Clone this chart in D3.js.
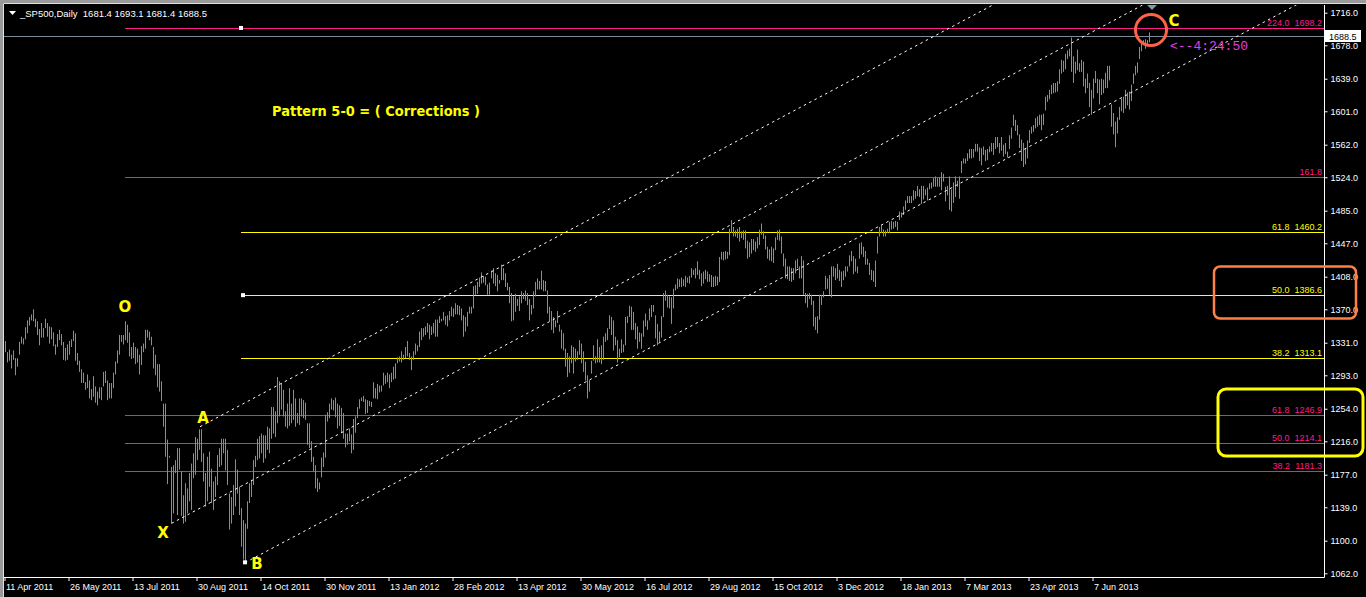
<!DOCTYPE html>
<html><head><meta charset="utf-8"><title>_SP500 Daily</title>
<script src="https://cdn.jsdelivr.net/npm/d3@7/dist/d3.min.js"></script>
<style>html,body{margin:0;padding:0;background:#000;overflow:hidden}svg{display:block}text{white-space:pre}</style>
</head><body>
<svg id="chart" width="1366" height="597"></svg>
<script>
// ---------- DATA (daily bars, high / low) ----------
const highs = [
1333,1320,1323,1317,1322,1313,1313,1332,1338,1336,
1349,1357,1361,1364,1370,1359,1356,1347,1354,1348,
1359,1354,1350,1349,1343,1329,1341,1346,1341,1332,
1325,1329,1333,1335,1345,1342,1319,1310,1300,1296,
1285,1294,1287,1277,1292,1280,1274,1279,1279,1297,
1298,1287,1284,1284,1296,1309,1322,1340,1340,1340,
1356,1352,1343,1326,1331,1326,1324,1317,1327,1330,
1346,1346,1344,1338,1326,1317,1306,1306,1286,
1260,1260,1218,1199,1186,1188,1194,1208,1208,1181,1153,
1167,1161,1179,1190,1202,1221,1219,1230,1230,1202,
1179,1198,1204,1184,1169,1175,1200,1208,1219,1219,
1219,1206,1155,1151,1165,1195,1183,1163,1138,1124,
1120,1146,1167,1171,1194,1199,1219,1222,1225,1223,
1223,1233,1231,1256,1256,1251,1291,1286,1284,1276,
1251,1260,1278,1260,1276,1266,1249,1266,1266,1264,
1261,1237,1237,1216,1198,1188,1173,1168,
1197,1203,1247,1250,1260,1266,1264,1267,1260,1258,
1255,1249,1225,1225,1231,1224,1242,1245,1256,1265,
1267,1269,1265,1264,1263,1262,1285,1278,1283,1281,
1281,1296,1293,1296,1294,
1296,
1303,1307,1314,1315,1321,1317,1326,1333,1319,1315,
1321,1330,1328,1344,1348,1348,1350,1354,1352,1350,
1354,1358,1358,1362,1359,1367,1362,1363,1368,1373,
1371,1377,1375,1374,1371,1363,1361,1367,1373,1373,
1397,1398,1402,1407,1413,1409,1408,1399,1401,1415,
1418,1412,1410,1404,1422,1418,1412,1401,1396,1389,
1385,1388,1382,1385,1391,1389,1392,1389,1382,1375,
1391,1402,1406,1403,1415,1404,1403,1392,1373,1368,
1361,1357,1368,1352,1346,1342,1324,1319,1315,1328,
1326,1324,1321,1334,1330,1321,1309,1293,1287,1310,
1328,1315,1335,1326,1328,1338,1342,1348,1363,1361,
1357,1338,1334,1324,1335,1329,1361,1362,1374,
1373,1367,1354,1350,1343,1342,1357,1365,1357,1371,
1375,1375,1363,1353,1344,1362,1389,1392,1387,1385,
1384,1394,1399,1406,1405,1407,1405,1409,1407,1409,
1418,1416,1418,1426,1416,1412,1414,1416,1414,1411,
1410,1408,1409,1408,1431,1437,1437,1438,1437,1464,
1474,1466,1462,1464,1466,1461,1462,1462,1450,1448,
1452,1452,1449,1454,1463,1470,1461,1456,1443,1440,
1443,1441,1454,1462,1463,1455,1435,1429,1420,1420,
1418,1418,1427,1429,1420,1432,1427,1389,1388,1389,
1387,1380,1361,1362,1387,1387,1391,1409,1406,1410,
1420,1420,1418,1423,1416,1414,1415,1420,1420,1433,
1438,1432,1429,1420,1447,1448,1443,1438,1429,1424,
1416,1415,1427,1455,1466,1468,1463,1462,1464,1472,
1473,1472,1473,1472,1484,1483,1490,1497,1502,1502,
1502,1509,1508,1514,1510,1514,1514,1510,1512,1517,
1518,1523,1525,1523,1524,1530,1528,1513,1514,1525,
1510,1518,1525,1520,1525,1543,1546,1546,1552,1557,
1557,1557,1563,1563,1559,1558,1560,1556,1557,1560,
1564,1564,1571,1571,1564,1571,1562,1564,1554,1573,
1582,1597,1591,1585,1574,1568,1564,1558,1567,1579,
1583,1585,1593,1595,1597,1597,1598,1618,1620,1626,
1632,1634,1634,1636,1650,1661,1660,1668,1672,1674,
1687,1665,1659,1673,1657,1661,1659,1639,1645,1634,
1626,1639,1648,1639,1638,1639,1638,1646,1654,1654,
1609,1599,1589,1594,1606,1616,1618,1626,1623,1624,
1632,1645,1654,1658,1676,1681,1684,1685,1684,1693.1
];
const lows = [
1320,1308,1310,1301,1311,1293,1303,1317,1330,1329,
1335,1342,1351,1357,1356,1349,1340,1328,1337,1337,
1348,1338,1330,1335,1327,1317,1326,1334,1328,1311,
1310,1311,1317,1326,1333,1310,1305,1297,1284,1284,
1276,1278,1266,1264,1268,1261,1258,1266,1264,1280,
1284,1264,1266,1266,1278,1294,1307,1317,1332,1329,
1334,1331,1315,1312,1313,1306,1308,1294,1305,1320,
1324,1337,1334,1328,1301,1293,1279,1274,1263,
1233,1198,1166,1197,1120,1132,1179,1130,1183,1129,1120,
1122,1132,1146,1136,1173,1177,1194,1206,1192,1169,
1140,1146,1163,1144,1136,1151,1165,1186,1188,1202,
1182,1165,1113,1120,1130,1140,1155,1130,1093,1078,
1074,1114,1144,1151,1165,1186,1194,1196,1202,1191,
1196,1206,1202,1219,1225,1221,1237,1245,1253,1245,
1233,1231,1234,1237,1241,1233,1237,1235,1245,1243,
1241,1212,1208,1192,1181,1161,1157,1160,
1174,1186,1197,1239,1243,1253,1252,1244,1231,1234,
1226,1219,1209,1212,1216,1202,1206,1226,1243,1254,
1263,1262,1248,1249,1257,1256,1266,1266,1265,1273,
1274,1281,1283,1285,1278,
1285,
1288,1289,1307,1309,1308,1311,1313,1315,1311,1299,
1311,1317,1321,1326,1334,1338,1340,1343,1335,1340,
1342,1338,1338,1354,1356,1357,1352,1350,1357,1362,
1361,1364,1364,1363,1357,1338,1344,1350,1365,1365,
1371,1387,1388,1396,1400,1401,1398,1387,1387,1406,
1400,1397,1391,1400,1404,1404,1396,1392,1377,1356,
1357,1367,1374,1368,1377,1382,1380,1375,1357,1364,
1371,1385,1393,1393,1393,1391,1391,1365,1356,1346,
1342,1349,1354,1344,1324,1322,1303,1291,1296,1307,
1295,1309,1311,1317,1307,1297,1287,1266,1274,1295,
1310,1307,1308,1308,1306,1311,1332,1334,1347,1340,
1322,1328,1308,1314,1319,1320,1328,1354,1361,
1346,1346,1335,1324,1332,1324,1338,1350,1346,1357,
1361,1367,1336,1328,1332,1337,1361,1380,1372,1371,
1353,1371,1392,1394,1396,1396,1397,1396,1401,1400,
1407,1410,1406,1410,1405,1397,1400,1405,1402,1402,
1396,1396,1397,1398,1402,1428,1427,1428,1429,1433,
1459,1455,1455,1453,1449,1453,1451,1441,1429,1431,
1435,1439,1437,1441,1445,1457,1452,1440,1429,1427,
1426,1424,1439,1451,1450,1435,1420,1406,1405,1403,
1402,1404,1412,1418,1406,1406,1387,1377,1372,1382,
1375,1350,1346,1342,1358,1375,1384,1393,1394,1387,
1384,1408,1404,1406,1403,1396,1404,1408,1414,1420,
1426,1411,1414,1412,1429,1434,1431,1422,1422,1410,
1404,1402,1396,1435,1455,1459,1455,1455,1459,1459,
1463,1464,1466,1462,1474,1477,1480,1486,1494,1494,
1494,1497,1499,1502,1501,1493,1498,1503,1497,1510,
1511,1513,1513,1513,1513,1509,1519,1496,1503,1486,
1484,1494,1501,1513,1499,1529,1540,1540,1543,1546,
1546,1547,1554,1554,1543,1538,1550,1543,1544,1553,
1554,1550,1557,1559,1552,1555,1548,1551,1547,1557,
1569,1584,1578,1573,1558,1543,1536,1539,1546,1564,
1575,1577,1581,1583,1585,1579,1585,1602,1612,1615,
1621,1622,1623,1624,1633,1645,1647,1650,1662,1665,
1647,1634,1645,1649,1647,1647,1630,1622,1628,1606,
1597,1616,1634,1622,1609,1620,1622,1628,1628,1637,
1583,1574,1559,1575,1591,1601,1599,1604,1608,1603,
1613,1633,1643,1646,1662,1671,1678,1674,1678,1681.4
];
const symbolTitle = "_SP500,Daily";
const lastBarOHLC = [1681.4, 1693.1, 1681.4, 1688.5];
const priceTicks = [1062,1100,1139,1177,1216,1254,1293,1331,1370,1408,1447,1485,1524,1562,1601,1639,1678,1716];
const dateLabels = ["11 Apr 2011","26 May 2011","13 Jul 2011","30 Aug 2011","14 Oct 2011","30 Nov 2011","13 Jan 2012","28 Feb 2012","13 Apr 2012","30 May 2012","16 Jul 2012","29 Aug 2012","15 Oct 2012","3 Dec 2012","18 Jan 2013","7 Mar 2013","23 Apr 2013","7 Jun 2013"];
const barsPerDateLabel = 32;
// Fibonacci levels (pink: O->B retracement / extension, yellow: B->C retracement)
const pinkFibLabels = ["224.0  1698.2","161.8","61.8  1246.9","50.0  1214.1","38.2  1181.3"];
const pinkFibPrices = [1698.2,1524.0,1246.9,1214.1,1181.3];
const pinkFibStartBar = 60;
const yellowFibLabels = ["61.8  1460.2","50.0  1386.6","38.2  1313.1"];
const yellowFibPrices = [1460.2,1386.6,1313.1];
const yellowFibStartBar = 118;
const fibAnchorBars = [118,119,120];
const fibAnchorPrices = [1698.2,1386.5,1074.8];
// Pattern points
const pointNames = ["O","X","A","B","C"];
const pointBars = [60,83,97,120,572];
const pointPrices = [1356,1120,1230,1074.4,1693.1];
// Parallel channel lines (start anchor -> second anchor), drawn as rays
const channelStarts = [[83.3,1120.3],[97.5,1233],[120,1074.4]];
const channelSeconds = [[547.5,1698.4],[437.5,1655],[548.5,1604.8]];
const countdownText = "<--4:24:50";
const patternTitle = "Pattern 5-0 = ( Corrections )";

// ---------- DRAW ----------
const W = 1366, H = 597;
const P = {left:4, top:5, right:1324, bottom:577};
const svg = d3.select("#chart");
const x = d3.scaleLinear().domain([0, 572]).range([5, 1149]);
const y = d3.scaleLinear().domain([1062, 1716]).range([573.3, 12.7]);
const FONT = "'Liberation Sans', Arial, sans-serif";

svg.append("rect").attr("width", W).attr("height", H).attr("fill", "#000");
// window frame
svg.append("rect").attr("x",0).attr("y",0).attr("width",W).attr("height",3).attr("fill","#9a9a9a");
svg.append("rect").attr("x",0).attr("y",0).attr("width",3).attr("height",H).attr("fill","#9a9a9a");
svg.append("line").attr("x1",3.5).attr("x2",W).attr("y1",3.5).attr("y2",3.5).attr("stroke","#e0e0e0");
svg.append("line").attr("x1",3.5).attr("x2",3.5).attr("y1",3.5).attr("y2",H).attr("stroke","#e0e0e0");

svg.append("defs").append("clipPath").attr("id","plotclip").append("rect")
  .attr("x",P.left).attr("y",P.top).attr("width",P.right-P.left).attr("height",P.bottom-P.top);
const plot = svg.append("g").attr("clip-path","url(#plotclip)");

// Fibonacci lines
const pinkCol = "#ff1a8c", yellowCol = "#ffff00";
plot.selectAll("line.pf").data(pinkFibPrices).join("line").attr("class","pf")
  .attr("x1", x(pinkFibStartBar)).attr("x2", P.right)
  .attr("y1", d => Math.round(y(d)) + 0.5).attr("y2", d => Math.round(y(d)) + 0.5)
  .attr("stroke", pinkCol).attr("stroke-width", 1);
plot.selectAll("line.yf").data(yellowFibPrices).join("line").attr("class","yf")
  .attr("x1", x(yellowFibStartBar)).attr("x2", P.right)
  .attr("y1", d => Math.round(y(d)) + 0.5).attr("y2", d => Math.round(y(d)) + 0.5)
  .attr("stroke", yellowCol).attr("stroke-width", 1);

// bars
plot.append("g").selectAll("line").data(highs).join("line")
  .attr("x1", (d,i) => x(i) + 0.5).attr("x2", (d,i) => x(i) + 0.5)
  .attr("y1", d => y(d)).attr("y2", (d,i) => Math.max(y(lows[i]), y(d) + 1))
  .attr("stroke", "#32cd32").attr("stroke-width", 1);

// current price line
plot.append("line").attr("x1", P.left).attr("x2", P.right)
  .attr("y1", Math.round(y(lastBarOHLC[3])) + 0.5).attr("y2", Math.round(y(lastBarOHLC[3])) + 0.5)
  .attr("stroke", "#7f8c99").attr("stroke-width", 1);

// channel rays
channelStarts.forEach((s, k) => {
  const e = channelSeconds[k];
  const slope = (e[1] - s[1]) / (e[0] - s[0]);
  const farBar = 760;
  plot.append("line")
    .attr("x1", x(s[0])).attr("y1", y(s[1]))
    .attr("x2", x(farBar)).attr("y2", y(s[1] + slope * (farBar - s[0])))
    .attr("stroke", "#ffffff").attr("stroke-width", 1).attr("stroke-dasharray", "2.5,3.5");
});

// fib anchor squares
plot.selectAll("rect.anc").data(fibAnchorBars).join("rect").attr("class","anc")
  .attr("x", d => x(d) - 2).attr("y", (d,i) => y(fibAnchorPrices[i]) - 2)
  .attr("width", 4).attr("height", 4).attr("fill", "#fff");

// fib labels
svg.selectAll("text.pfl").data(pinkFibLabels).join("text").attr("class","pfl")
  .attr("x", P.right - 2).attr("y", (d,i) => Math.round(y(pinkFibPrices[i])) - 2)
  .attr("text-anchor","end").attr("font-family",FONT).attr("font-size",9)
  .attr("fill", pinkCol).text(d => d);
svg.selectAll("text.yfl").data(yellowFibLabels).join("text").attr("class","yfl")
  .attr("x", P.right - 2).attr("y", (d,i) => Math.round(y(yellowFibPrices[i])) - 2)
  .attr("text-anchor","end").attr("font-family",FONT).attr("font-size",9)
  .attr("fill", yellowCol).text(d => d);

// axes
const yAxis = d3.axisRight(y).tickValues(priceTicks).tickFormat(d3.format(".1f")).tickSize(3).tickPadding(3);
const gy = svg.append("g").attr("transform", `translate(${P.right + 0.5},0)`).call(yAxis);
gy.select(".domain").remove();
gy.selectAll("line").attr("stroke","#fff");
gy.selectAll("text").attr("fill","#fff").attr("font-family",FONT).attr("font-size",9);

const labelBars = dateLabels.map((d,i) => i * barsPerDateLabel);
const xAxis = d3.axisBottom(x).tickValues(labelBars).tickFormat((d,i) => dateLabels[i]).tickSize(4).tickPadding(2);
const gx = svg.append("g").attr("transform", `translate(-0.5,${P.bottom})`).call(xAxis);
gx.select(".domain").remove();
gx.selectAll("line").attr("stroke","#fff");
gx.selectAll("text").attr("fill","#fff").attr("font-family",FONT).attr("font-size",9)
  .attr("text-anchor","start").attr("x",1).attr("dy","0.78em");

svg.append("line").attr("x1",P.right+0.5).attr("x2",P.right+0.5).attr("y1",P.top).attr("y2",P.bottom+0.5).attr("stroke","#fff");
svg.append("line").attr("x1",P.left).attr("x2",P.right+0.5).attr("y1",P.bottom+0.5).attr("y2",P.bottom+0.5).attr("stroke","#fff");

// current price box
const cy = Math.round(y(lastBarOHLC[3]));
svg.append("rect").attr("x",P.right+1).attr("y",cy-6).attr("width",36).attr("height",12).attr("fill","#fff");
svg.append("text").attr("x",P.right+5).attr("y",cy+3.5).attr("font-family",FONT).attr("font-size",9)
  .attr("fill","#000").text(d3.format(".1f")(lastBarOHLC[3]));

// header
svg.append("path").attr("d","M9,11 L16,11 L12.5,15 Z").attr("fill","#fff");
svg.append("text").attr("x",20).attr("y",17).attr("font-family",FONT).attr("font-size",9.5).attr("fill","#fff")
  .text(symbolTitle + "  " + lastBarOHLC.map(d3.format(".1f")).join(" "));

// shift marker
svg.append("path").attr("d","M1147,5 L1157,5 L1152,10 Z").attr("fill","#8a98a8");

// pattern point labels
const ptFont = "'DejaVu Sans', 'Liberation Sans', sans-serif";
const ptOffsets = [[0,-9],[-8,14],[4,-6],[12,6],[25,-6]];
svg.selectAll("text.pt").data(pointNames).join("text").attr("class","pt")
  .attr("x", (d,i) => x(pointBars[i]) + ptOffsets[i][0])
  .attr("y", (d,i) => y(pointPrices[i]) + ptOffsets[i][1])
  .attr("text-anchor","middle").attr("font-family",ptFont).attr("font-weight","bold")
  .attr("font-size",15).attr("fill","#ffff00").text(d => d);

svg.append("text").attr("x",272).attr("y",116).attr("font-family",ptFont).attr("font-weight","bold")
  .attr("font-size",14).attr("fill","#ffff00").attr("textLength",208).attr("lengthAdjust","spacingAndGlyphs")
  .text(patternTitle);

svg.append("text").attr("x",1170).attr("y",50).attr("font-family","'Liberation Mono', 'DejaVu Sans Mono', monospace")
  .attr("font-size",13).attr("fill","#e040e0").attr("textLength",78).attr("lengthAdjust","spacingAndGlyphs")
  .text(countdownText);

// highlight shapes
svg.append("circle").attr("cx", x(pointBars[4]) + 2).attr("cy", 30).attr("r", 15.5)
  .attr("fill","none").attr("stroke","#ff6347").attr("stroke-width",3);
svg.append("rect").attr("x",1214).attr("y",266.5).attr("width",142).attr("height",52).attr("rx",6)
  .attr("fill","none").attr("stroke","#ff7f45").attr("stroke-width",2.5);
svg.append("rect").attr("x",1218).attr("y",389).attr("width",145).attr("height",67).attr("rx",8)
  .attr("fill","none").attr("stroke","#ffff00").attr("stroke-width",3);
</script>
</body></html>
